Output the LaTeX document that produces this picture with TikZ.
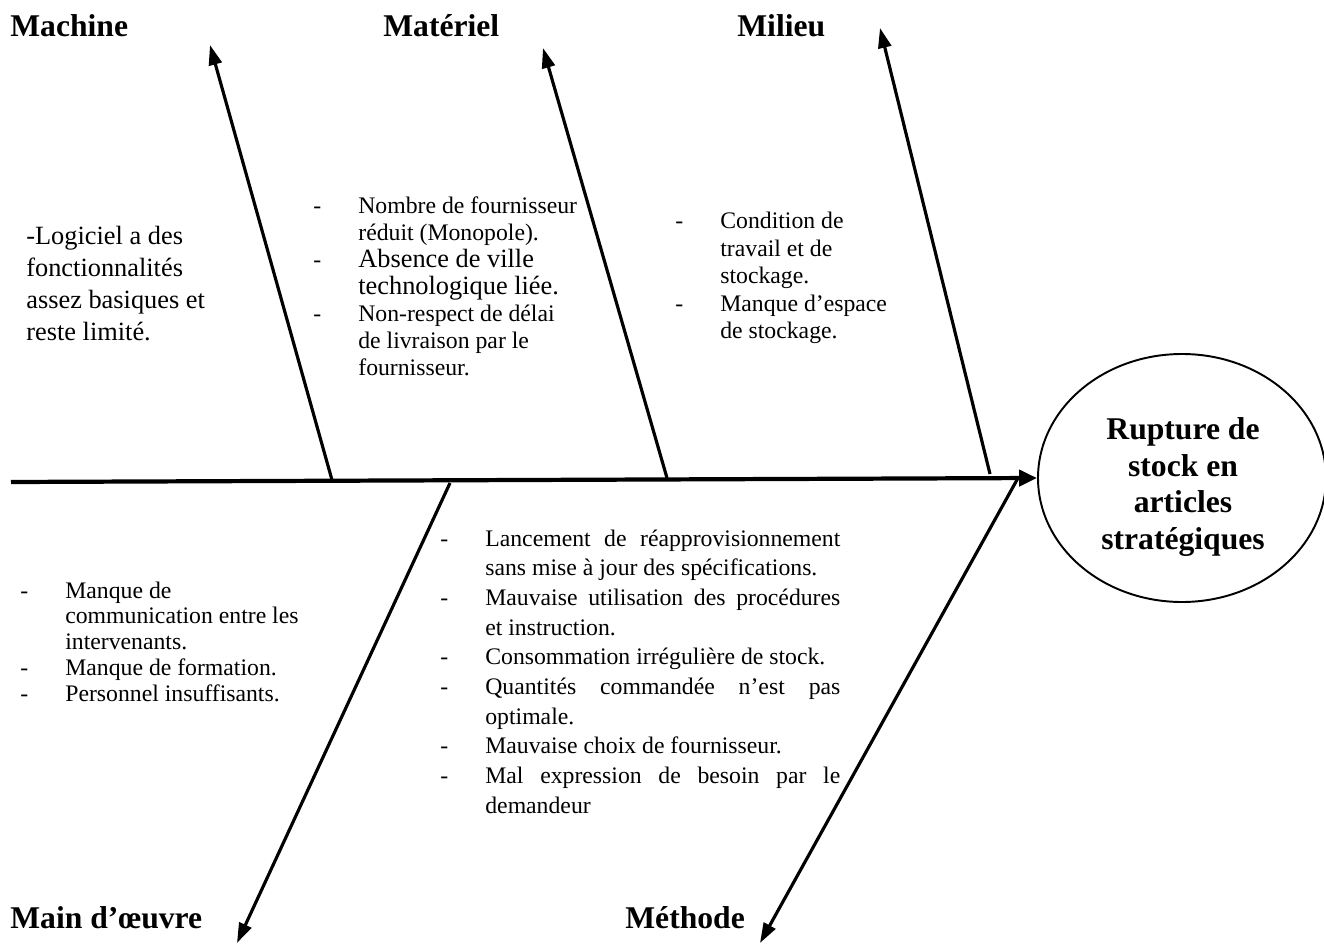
\documentclass[tikz,border=0pt]{standalone}
\usepackage{fontspec}
\setmainfont{Liberation Serif}
\usetikzlibrary{arrows.meta,shapes.geometric}
\newcommand{\tiret}{\makebox[9mm][l]{-}}
\newcommand{\suite}{\hspace*{9mm}}
\newcommand{\justif}[1]{\makebox[71mm][s]{\spaceskip=0pt\xspaceskip=0pt #1}}

\begin{document}
\begin{tikzpicture}[x=0.2mm,y=-0.2mm,
    arete/.style={line width=2.4pt,-{Triangle[length=3.6mm,width=3.2mm]}},
    os/.style={line width=1.8pt,-{Triangle[length=4mm,width=2.6mm]}},
    famille/.style={anchor=base west,inner sep=0pt,
      font=\fontsize{18}{20}\selectfont\bfseries},
    cause/.style={anchor=base west,inner sep=0pt,align=left,text width=70mm,
      font=\fontsize{13.5}{15.3}\selectfont,
      execute at begin node={\spaceskip=0pt\xspaceskip=0pt}}]
    \useasboundingbox (0,0) rectangle (1324,944);

    \coordinate (queue) at (11,482);
    \coordinate (b1) at (332,480);
    \coordinate (t1) at (210,45);
    \coordinate (b2) at (667,478);
    \coordinate (t2) at (543,48);
    \coordinate (b3) at (990,474);
    \coordinate (t3) at (880,28);
    \coordinate (b4) at (450,483);
    \coordinate (t4) at (237,943);
    \coordinate (b5) at (1018,478);
    \coordinate (t5) at (760,943);

    \node [ellipse,draw,line width=1.1pt,minimum width=57.6mm,
    minimum height=49.6mm,inner sep=0pt] (effet) at (1182,478) {};

    \node [inner sep=0pt,align=center,
    font=\fontsize{18}{21}\selectfont\bfseries,
    execute at begin node={\spaceskip=0pt\xspaceskip=0pt}] (effettexte)
    at (1183,487) {Rupture de\\stock en\\articles\\stratégiques};

    \draw [arete] (queue) -- (effet.west);

    \draw [os] (b1) -- (t1);
    \draw [os] (b2) -- (t2);
    \draw [os] (b3) -- (t3);
    \draw [os] (b4) -- (t4);
    \draw [os] (b5) -- (t5);

    \node [famille] (machine) at (10,37) {Machine};
    \node [famille] (materiel) at (383,37) {Matériel};
    \node [famille] (milieu) at (737,37) {Milieu};
    \node [famille] (maindoeuvre) at (10,928) {Main d’œuvre};
    \node [famille] (methode) at (625,928) {Méthode};

    \node [cause,font=\fontsize{15}{18.1}\selectfont] (cmachine) at (26,245)
    {-Logiciel a des\\fonctionnalités\\assez basiques et\\reste limité.};

    \node [cause] (cmateriel) at (313,214)
    {\tiret Nombre de fournisseur\\
     \suite réduit (Monopole).\\
     \tiret{\fontsize{15}{15.3}\selectfont Absence de ville}\\
     \suite{\fontsize{15}{15.3}\selectfont technologique liée.}\\
     \tiret Non-respect de délai\\
     \suite de livraison par le\\
     \suite fournisseur.};

    \node [cause,font=\fontsize{13.5}{15.6}\selectfont] (cmilieu) at (675,229)
    {\tiret Condition de\\
     \suite travail et de\\
     \suite stockage.\\
     \tiret Manque d’espace\\
     \suite de stockage.};

    \node [cause,font=\fontsize{13.5}{14.7}\selectfont] (cmain) at (20,598)
    {\tiret Manque de\\
     \suite communication entre les\\
     \suite intervenants.\\
     \tiret Manque de formation.\\
     \tiret Personnel insuffisants.};

    \node [cause,text width=82mm,font=\fontsize{13.5}{16.9}\selectfont]
    (cmethode) at (440,546)
    {\tiret\justif{Lancement de réapprovisionnement}\\
     \suite sans mise à jour des spécifications.\\
     \tiret\justif{Mauvaise utilisation des procédures}\\
     \suite et instruction.\\
     \tiret Consommation irrégulière de stock.\\
     \tiret\justif{Quantités commandée n’est pas}\\
     \suite optimale.\\
     \tiret Mauvaise choix de fournisseur.\\
     \tiret\justif{Mal expression de besoin par le}\\
     \suite demandeur};
\end{tikzpicture}
\end{document}
